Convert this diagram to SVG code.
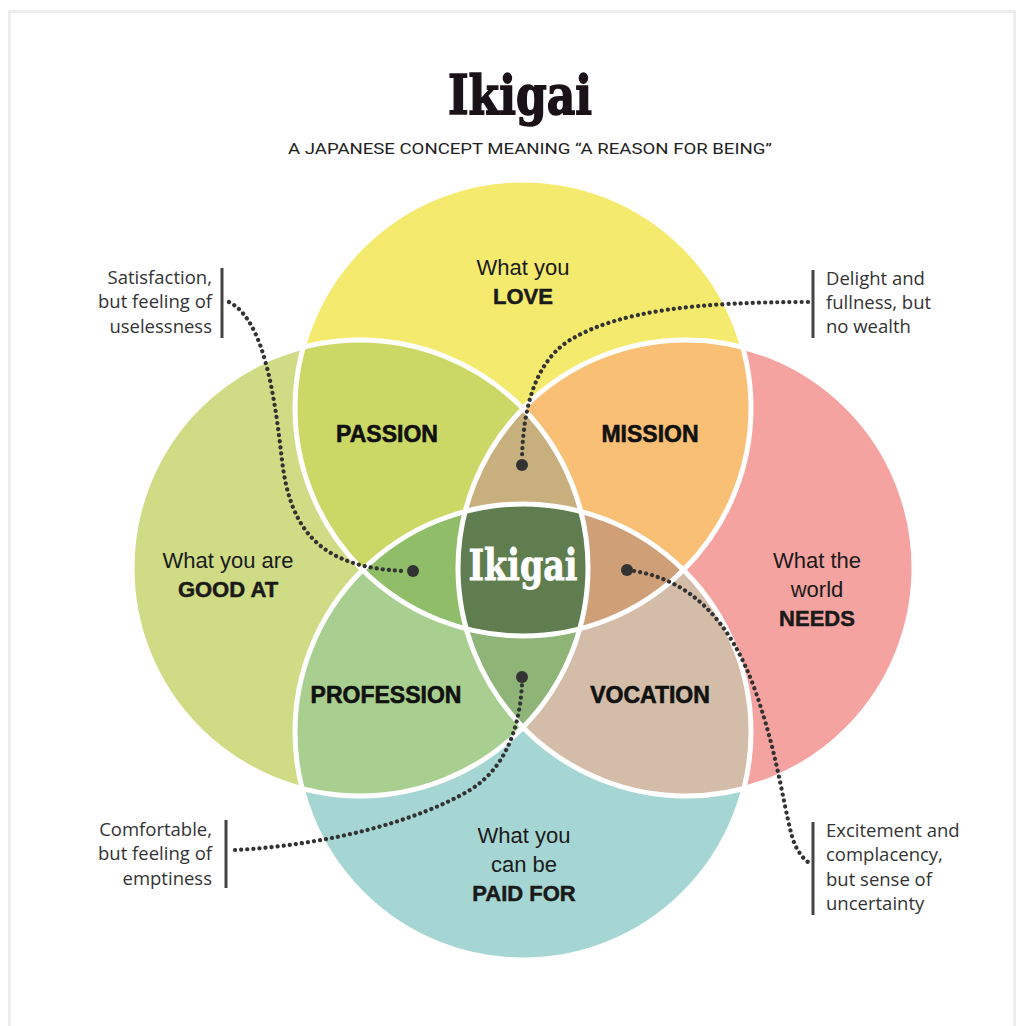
<svg xmlns="http://www.w3.org/2000/svg" width="1024" height="1026" viewBox="0 0 1024 1026">
<style>
.lbl{font-family:"Liberation Sans",Arial,sans-serif;font-size:22px;fill:#1a1a1a;text-anchor:middle}
.b{font-weight:bold;stroke:#1a1a1a;stroke-width:0.5}
.reg{font-family:"Liberation Sans",Arial,sans-serif;font-size:23px;font-weight:bold;fill:#111;stroke:#111;stroke-width:0.6;text-anchor:middle}
.call{font-family:"Open Sans","DejaVu Sans",sans-serif;font-size:18.5px;fill:#333}
.r{text-anchor:end}
.bar{stroke:#444;stroke-width:3}
.dot{fill:none;stroke:#333;stroke-width:4.2;stroke-linecap:round;stroke-dasharray:0.1 6}
.end{fill:#333}
.ol{fill:none;stroke:#fff;stroke-width:5}
</style>
<defs>
<circle id="T" cx="523" cy="408" r="228"/>
<circle id="L" cx="360" cy="568" r="228"/>
<circle id="R" cx="686" cy="568" r="228"/>
<circle id="B" cx="523" cy="732" r="228"/>
<clipPath id="cT"><use href="#T"/></clipPath>
<clipPath id="cL"><use href="#L"/></clipPath>
<clipPath id="cR"><use href="#R"/></clipPath>
<clipPath id="cB"><use href="#B"/></clipPath>
</defs>
<rect width="1024" height="1026" fill="#fff"/>
<rect x="9.5" y="11.5" width="1005" height="1030" fill="none" stroke="#eeeeee" stroke-width="3"/>
<g id="title">
<text x="520" y="114" font-family="DejaVu Serif,serif" font-weight="bold" font-size="54" fill="#1a1216" stroke="#1a1216" stroke-width="1.6" text-anchor="middle" textLength="144" lengthAdjust="spacingAndGlyphs">Ikigai</text>
<text x="530" y="154" font-family="Roboto,'Liberation Sans',sans-serif" font-size="15" fill="#222" text-anchor="middle" textLength="484" lengthAdjust="spacingAndGlyphs">A JAPANESE CONCEPT MEANING “A REASON FOR BEING”</text>
</g>
<g id="venn">
<use href="#T" fill="#F4EB6E"/>
<use href="#L" fill="#CFDC85"/>
<use href="#R" fill="#F5A3A0"/>
<use href="#B" fill="#A6D6D3"/>
<g clip-path="url(#cT)"><use href="#L" fill="#CBD865"/><use href="#R" fill="#F8BF75"/></g>
<g clip-path="url(#cB)"><use href="#L" fill="#A8CF90"/><use href="#R" fill="#D3BDA8"/></g>
<g clip-path="url(#cT)"><g clip-path="url(#cL)"><use href="#R" fill="#C8B07E"/><use href="#B" fill="#8FBD68"/></g></g>
<g clip-path="url(#cT)"><g clip-path="url(#cR)"><use href="#B" fill="#CF9F77"/></g></g>
<g clip-path="url(#cB)"><g clip-path="url(#cL)"><use href="#R" fill="#8FB478"/></g></g>
<g clip-path="url(#cT)"><g clip-path="url(#cL)"><g clip-path="url(#cR)"><use href="#B" fill="#5F7D4E"/></g></g></g>
<use href="#T" class="ol"/><use href="#L" class="ol"/><use href="#R" class="ol"/><use href="#B" class="ol"/>
</g>
<g id="love"><text class="lbl" x="523" y="275">What you</text><text class="lbl b" x="523" y="304">LOVE</text></g>
<g id="goodat"><text class="lbl" x="228" y="568">What you are</text><text class="lbl b" x="228" y="597">GOOD AT</text></g>
<g id="needs"><text class="lbl" x="817" y="568">What the</text><text class="lbl" x="817" y="597">world</text><text class="lbl b" x="817" y="626">NEEDS</text></g>
<g id="paidfor"><text class="lbl" x="524" y="843">What you</text><text class="lbl" x="524" y="872">can be</text><text class="lbl b" x="524" y="901">PAID FOR</text></g>
<g id="passion"><text class="reg" x="387" y="442">PASSION</text></g>
<g id="mission"><text class="reg" x="650" y="442">MISSION</text></g>
<g id="profession"><text class="reg" x="386" y="703">PROFESSION</text></g>
<g id="vocation"><text class="reg" x="650" y="703">VOCATION</text></g>
<g id="ikigai"><text x="523" y="580" font-family="DejaVu Serif,serif" font-weight="bold" font-size="42" fill="#fff" stroke="#fff" stroke-width="0.8" text-anchor="middle" textLength="109" lengthAdjust="spacingAndGlyphs">Ikigai</text></g>
<g id="note-useless"><line class="bar" x1="222" y1="268" x2="222" y2="338"/><text class="call r" x="212" y="284">Satisfaction,</text><text class="call r" x="212" y="308">but feeling of</text><text class="call r" x="212" y="333">uselessness</text></g>
<g id="note-wealth"><line class="bar" x1="813" y1="270" x2="813" y2="338"/><text class="call" x="826" y="285">Delight and</text><text class="call" x="826" y="309">fullness, but</text><text class="call" x="826" y="333">no wealth</text></g>
<g id="note-empty"><line class="bar" x1="226" y1="820" x2="226" y2="888"/><text class="call r" x="212" y="836">Comfortable,</text><text class="call r" x="212" y="860">but feeling of</text><text class="call r" x="212" y="885">emptiness</text></g>
<g id="note-uncertain"><line class="bar" x1="813" y1="822" x2="813" y2="915"/><text class="call" x="826" y="837">Excitement and</text><text class="call" x="826" y="861">complacency,</text><text class="call" x="826" y="886">but sense of</text><text class="call" x="826" y="910">uncertainty</text></g>
<g id="connectors">
<path class="dot" d="M229 302 C265 320 275 400 282 460 C290 530 320 568 405 571"/>
<circle class="end" cx="413" cy="571" r="6"/>
<path class="dot" d="M808 302 C700 302 620 310 570 340 C530 365 523 420 522 458"/>
<circle class="end" cx="522" cy="465" r="6"/>
<path class="dot" d="M235 850 C330 845 420 820 470 790 C510 765 520 720 522 684"/>
<circle class="end" cx="522" cy="677" r="6"/>
<path class="dot" d="M634 571 C690 580 730 620 755 690 C780 760 785 820 795 845 C800 855 805 860 808 862"/>
<circle class="end" cx="627" cy="570" r="6"/>
</g>
</svg>
